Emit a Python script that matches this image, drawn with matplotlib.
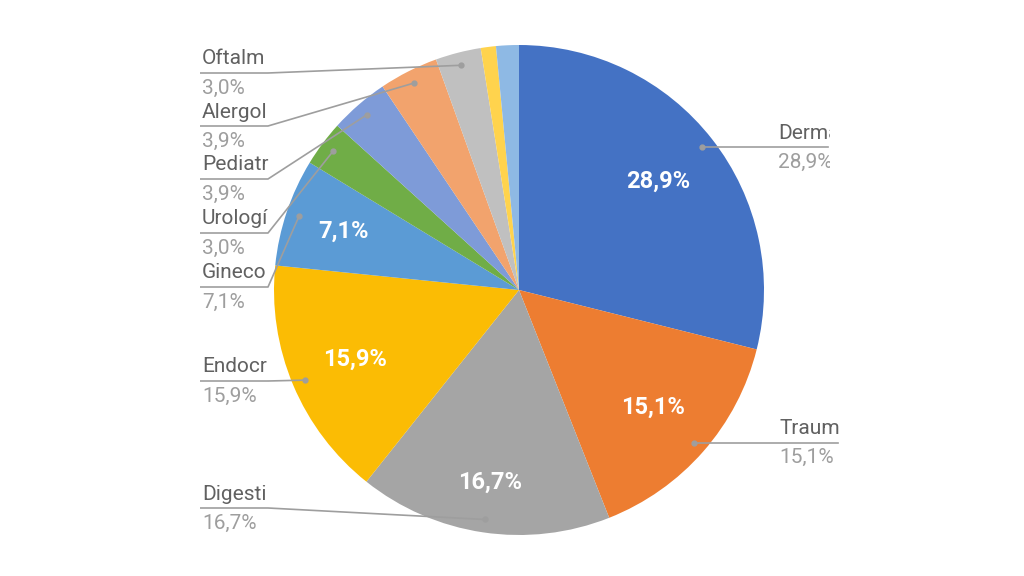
import matplotlib
matplotlib.use("Agg")
import matplotlib.pyplot as plt
from matplotlib.transforms import Bbox
import numpy as np

# ---- data ----
categories = ["Derma", "Traum", "Digesti", "Endocr", "Gineco", "Urologí",
              "Pediatr", "Alergol", "Oftalm", "Otros1", "Otros2"]
values = [28.9, 15.1, 16.7, 15.9, 7.1, 3.0, 3.9, 3.9, 3.0, 1.0, 1.5]
colors = ["#4472C4", "#ED7D31", "#A5A5A5", "#FBBC04", "#5B9BD5", "#70AD47",
          "#7E9BD8", "#F2A36D", "#C0C0C0", "#FFD34D", "#8EB9E4"]

# ---- layout (pixel coords, y measured from top) ----
W, H = 1024, 576
CX, CY, R = 519, 290, 245
left_labels = {"Oftalm": 73, "Alergol": 126, "Pediatr": 179, "Urologí": 233,
               "Gineco": 287, "Endocr": 381, "Digesti": 508}
right_labels = {"Derma": (778, 828, 830), "Traum": (779, 838, 860)}
# radial position (fraction of radius) of the inner percentage labels
inner_dist = {"Derma": 0.72, "Traum": 0.725, "Digesti": 0.795, "Endocr": 0.725,
              "Gineco": 0.755}

fig = plt.figure(figsize=(W / 100, H / 100), dpi=100)
ax = fig.add_axes([0, 0, 1, 1])

def Y(y):
    return H - y

fmt = lambda p: (f"{p:.1f}".replace(".", ",") + "%") if p >= 5 else ""
wedges, texts, autotexts = ax.pie(
    values, colors=colors, startangle=90, counterclock=False,
    center=(CX, Y(CY)), radius=R, autopct=fmt, pctdistance=0.725,
    wedgeprops=dict(linewidth=0), textprops=dict(family="Roboto"))
for w, t, cat in zip(wedges, autotexts, categories):
    t.set_color("white")
    t.set_fontsize(17)
    t.set_fontweight("bold")
    if cat in inner_dist:
        mid = np.deg2rad((w.theta1 + w.theta2) / 2)
        d = inner_dist[cat] * R
        t.set_position((CX + d * np.cos(mid), Y(CY) + d * np.sin(mid)))

ax.set_xlim(0, W)
ax.set_ylim(0, H)
ax.set_aspect("equal")
ax.axis("off")

name_color = "#616161"
pct_color = "#9E9E9E"
line_color = "#9E9E9E"
fam = "Roboto"
FS = 15

for w, cat, val in zip(wedges, categories, values):
    mid = np.deg2rad((w.theta1 + w.theta2) / 2)
    dx = CX + 0.947 * R * np.cos(mid)
    dy = Y(CY) + 0.947 * R * np.sin(mid)
    pct = f"{val:.1f}".replace(".", ",") + "%"
    if cat in left_labels:
        ly = Y(left_labels[cat])
        elbow = 268
        ax.plot([200, elbow, dx], [ly, ly, dy], color=line_color, lw=1.2,
                solid_capstyle="butt")
        ax.plot([dx], [dy], "o", color=line_color, ms=3.5)
        ax.text(202, ly + 14, cat, color=name_color, fontsize=FS, family=fam,
                ha="left", va="center")
        ax.text(202, ly - 15, pct, color=pct_color, fontsize=FS, family=fam,
                ha="left", va="center")
    elif cat in right_labels:
        tx, lend, clipx = right_labels[cat]
        ly = dy
        ax.plot([dx, lend], [ly, ly], color=line_color, lw=1.2)
        ax.plot([dx], [dy], "o", color=line_color, ms=3.5)
        clip = Bbox([[0, 0], [clipx, H]])
        t1 = ax.text(tx, ly + 14, cat, color=name_color, fontsize=FS, family=fam,
                     ha="left", va="center")
        t2 = ax.text(tx, ly - 15, pct, color=pct_color, fontsize=FS, family=fam,
                     ha="left", va="center")
        for t in (t1, t2):
            t.set_clip_on(True)
            t.set_clip_path(None)
            t.set_clip_box(clip)

fig.savefig("out.png", dpi=100, facecolor="white")
